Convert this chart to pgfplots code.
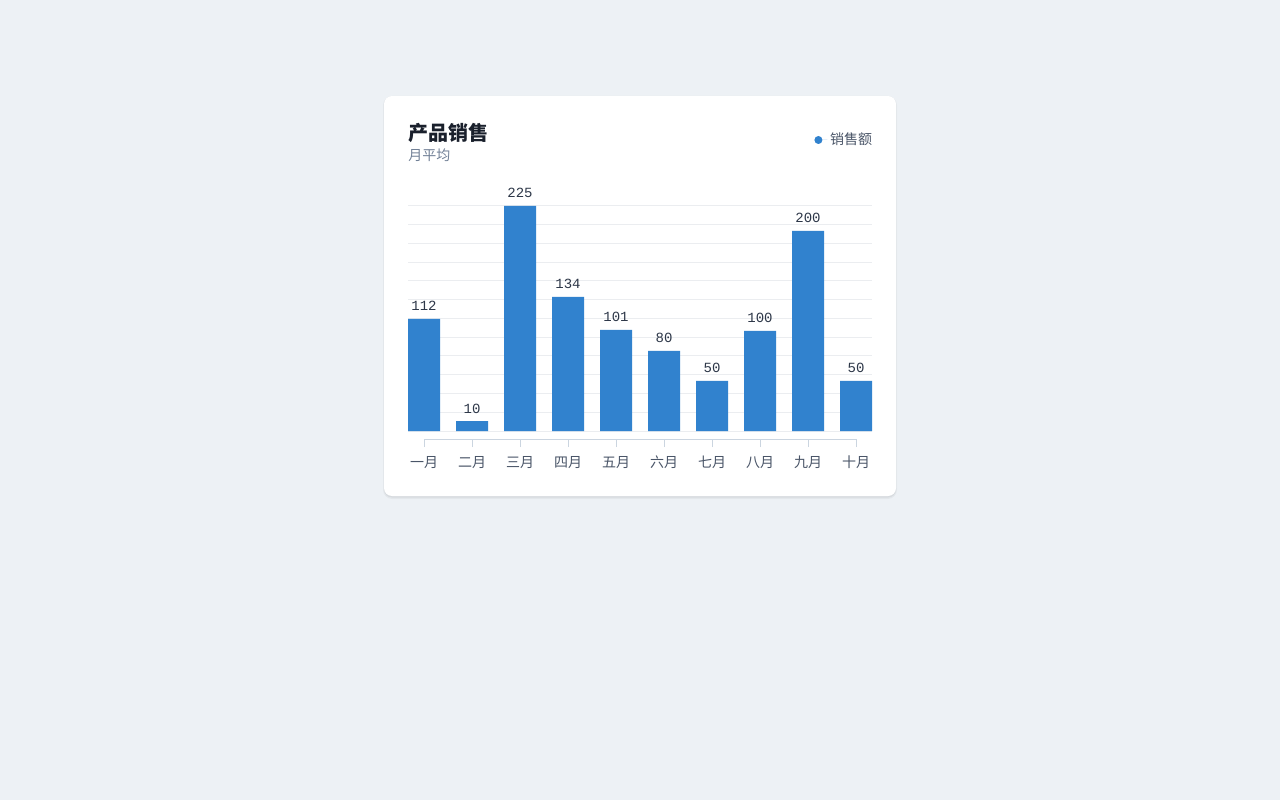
\documentclass[border=0pt]{standalone}
\usepackage{pgfplots}
\pgfplotsset{compat=1.18}
\usepackage{fontspec}
\setmainfont{Noto Sans CJK SC}
\newfontfamily\cjk{Noto Sans CJK SC}
\newfontfamily\mono{Liberation Mono}
\definecolor{bgc}{HTML}{EDF1F5}
\definecolor{barc}{HTML}{3182CE}
\definecolor{titlec}{HTML}{1A202C}
\definecolor{subc}{HTML}{718096}
\definecolor{labc}{HTML}{4A5568}
\definecolor{valc}{HTML}{2D3748}
\definecolor{axisc}{HTML}{CBD5E0}
\definecolor{gridc}{HTML}{EBEDF0}
\begin{document}
\begin{tikzpicture}
\useasboundingbox (0,0) rectangle (960pt,600pt);
\fill[bgc] (0,0) rectangle (960pt,600pt);
\begin{scope}[shift={(0,600pt)},x=0.75pt,y=-0.75pt]
  \fill[black,opacity=0.04,rounded corners=7pt] (383,96) rectangle (897,499);
  \fill[black,opacity=0.05,rounded corners=6pt] (384,96) rectangle (896,497.5);
  \fill[white,rounded corners=6pt] (384,96) rectangle (896,496);
  \node[anchor=base west,inner sep=0,font=\cjk\bfseries\fontsize{15}{18}\selectfont,text=titlec] at (408,141) {产品销售};
  \node[anchor=base west,inner sep=0,font=\cjk\fontsize{10.5}{12}\selectfont,text=subc] at (408,160.5) {月平均};
\end{scope}
\begin{axis}[
  at={(306pt,270.75pt)}, anchor=south west,
  scale only axis, width=348pt, height=174.75pt,
  xmin=-0.3333, xmax=9.3333, ymin=-8, ymax=225,
  ybar, bar width=24pt, bar shift=0pt,
  clip=false,
  /pgf/number format/assume math mode=true,
  axis line style={draw=none},
  xtick={0,...,9},
  xticklabels={一月,二月,三月,四月,五月,六月,七月,八月,九月,十月},
  xtick pos=bottom, tick align=outside, major tick length=6pt,
  xtick style={draw=axisc, line width=0.75pt},
  xticklabel style={anchor=base, font=\cjk\fontsize{10.5}{12}\selectfont, text=labc, yshift=-15pt},
  ytick={0,18.75,...,225}, yticklabels={}, ytick style={draw=none},
  ymajorgrids, grid style={draw=gridc, line width=0.75pt},
  nodes near coords,
  every node near coord/.append style={anchor=base, yshift=6pt, font=\mono\fontsize{10.5}{12}\selectfont, text=valc},
  legend style={at={(rel axis cs:1,1)}, anchor=east, yshift=49.5pt, xshift=2.25pt, draw=none, fill=none, inner sep=0pt, font=\cjk\fontsize{10.5}{12}\selectfont, text=labc},
  legend image code/.code={\fill[barc] (0,0) circle (3pt); \path (0,0) -- (6.75pt,0);},
  after end axis/.code={\draw[axisc, line width=0.75pt] (axis cs:0,-8) -- (axis cs:9,-8);},
]
\addplot[fill=barc, draw=none] coordinates {(0,112) (1,10) (2,225) (3,134) (4,101) (5,80) (6,50) (7,100) (8,200) (9,50)};
\addlegendentry{销售额}
\end{axis}
\end{tikzpicture}
\end{document}
